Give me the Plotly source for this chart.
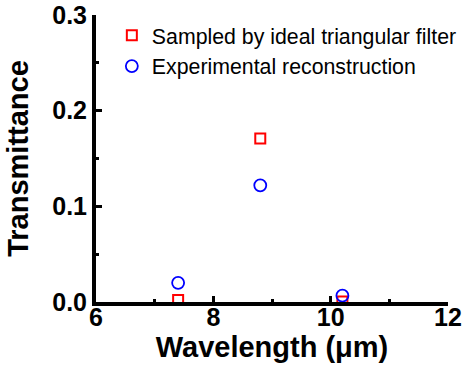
import plotly.graph_objects as go

wavelength = [7.4, 8.8, 10.2]
sampled = [0.002, 0.171, 0.0005]
experimental = [0.020, 0.122, 0.0066]

x_ticks = [6, 8, 10, 12]
y_ticks = [0.0, 0.1, 0.2, 0.3]

fig = go.Figure()
fig.add_trace(go.Scatter(
    x=wavelength, y=sampled, mode="markers", name="Sampled by ideal triangular filter",
    marker=dict(symbol="square-open", size=10, color="#ff0000", line=dict(width=2, color="#ff0000")),
    cliponaxis=True,
))
fig.add_trace(go.Scatter(
    x=wavelength, y=experimental, mode="markers", name="Experimental reconstruction",
    marker=dict(symbol="circle-open", size=12, color="#0000ff", line=dict(width=1.8, color="#0000ff")),
    cliponaxis=False,
))

FAM = "Liberation Sans, Arial, sans-serif"
title_font = dict(family=FAM, size=29, color="black")
tick_font = dict(family=FAM, size=25, color="black", weight="bold")
fig.update_layout(
    width=468, height=372,
    margin=dict(l=96, r=20, t=15, b=70, autoexpand=False),
    plot_bgcolor="white", paper_bgcolor="white",
    font=dict(family=FAM, color="black"),
    showlegend=True,
    legend=dict(x=0.045, y=1.0, xanchor="left", yanchor="top", bgcolor="rgba(0,0,0,0)",
                font=dict(size=21.3, family=FAM, color="black"),
                itemwidth=30, tracegroupgap=0),
    xaxis=dict(
        range=[6, 12], tickvals=x_ticks, ticktext=[str(v) for v in x_ticks],
        showgrid=False, zeroline=False, showline=True, linewidth=4, linecolor="black",
        ticks="inside", ticklen=6, tickwidth=3, tickcolor="black",
        minor=dict(ticks="inside", ticklen=3, tickwidth=3, dtick=1, tickcolor="black"),
        tickfont=tick_font, ticklabelstandoff=-10,
        title=dict(text="<b>Wavelength (μm)</b>", font=title_font, standoff=0),
        mirror=False,
    ),
    yaxis=dict(
        range=[0, 0.3], tickvals=y_ticks, ticktext=[f"{v:.1f}" for v in y_ticks],
        showgrid=False, zeroline=False, showline=True, linewidth=4, linecolor="black",
        ticks="inside", ticklen=6, tickwidth=3, tickcolor="black",
        minor=dict(ticks="inside", ticklen=3, tickwidth=3, dtick=0.05, tickcolor="black"),
        tickfont=tick_font,
        title=dict(text="<b>Transmittance</b>", font=title_font, standoff=16),
        mirror=False,
    ),
)
fig.write_html("out.html")
